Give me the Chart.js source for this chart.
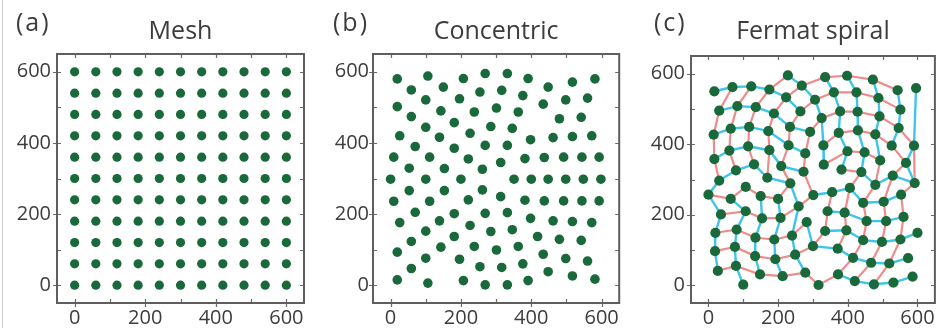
<!DOCTYPE html>
<html>
<head>
<meta charset="utf-8">
<script src="https://cdn.jsdelivr.net/npm/chart.js@4.4.1/dist/chart.umd.min.js"></script>
<style>
  body { margin: 0; background: #fff; }
  #wrap { position: relative; width: 940px; height: 328px; overflow: hidden; background: #fff; }
  #wrap canvas { position: absolute; top: 0; }
  #edge { position: absolute; left: 2px; top: 0; width: 1px; height: 328px; background: #cfcfcf; }
</style>
</head>
<body>
<div id="wrap">
  <div id="edge"></div>
  <canvas id="meshChart" width="310" height="328" style="left:0"></canvas>
  <canvas id="concentricChart" width="314" height="328" style="left:310px"></canvas>
  <canvas id="fermatChart" width="316" height="328" style="left:624px"></canvas>
</div>
<script>
// axis ticks
const tickLabels = [0, 200, 400, 600];
const tickMarks = [0, 100, 200, 300, 400, 500, 600];

// (a) regular mesh
const meshX = [0, 60, 120, 180, 240, 300, 360, 420, 480, 540, 600];
const meshY = [0, 60, 120, 180, 240, 300, 360, 420, 480, 540, 600];

// (b) concentric positions
const concentricX = [
  19, 106, 207, 269, 332, 391, 517, 581,
  59, 150, 254, 316, 448, 560,
  19, 100, 196, 301, 376, 498,
  59, 143, 238, 363, 434, 480, 542,
  26, 100, 181, 226, 285, 346,
  70, 139, 269, 332, 398, 462, 517, 572,
  9, 111, 221, 181,
  53, 153, 261, 313, 382, 437, 492, 544, 593,
  0, 100, 200, 351, 400, 448, 498, 548, 598,
  53, 153, 261, 313,
  9, 111, 221, 382, 437, 492, 544, 593,
  70, 181, 269, 332,
  26, 139, 226, 285, 346, 398, 462, 517, 572,
  100, 181, 363, 418, 480, 542,
  59, 238, 301,
  19, 143, 434, 498, 560,
  59, 100, 196, 254, 316, 376, 448,
  19, 106, 207, 269, 332, 391, 517, 581
];
const concentricY = [
  580, 588, 581, 595, 595, 581, 571, 580,
  549, 557, 543, 548, 557, 526,
  502, 521, 524, 498, 533, 521,
  474, 490, 487, 487, 509, 468, 472,
  420, 444, 457, 427, 446, 441,
  390, 416, 393, 393, 409, 415, 418, 420,
  360, 360, 355, 385,
  329, 328, 326, 345, 356, 359, 360, 360, 360,
  298, 298, 298, 298, 298, 298, 298, 298, 298,
  266, 266, 268, 249,
  236, 236, 240, 239, 237, 237, 237, 237,
  205, 201, 202, 204,
  176, 181, 168, 151, 156, 188, 181, 179, 176,
  152, 137, 109, 137, 129, 126,
  123, 109, 99,
  93, 107, 87, 75, 68,
  47, 76, 73, 52, 50, 60, 38,
  15, 6, 13, 1, 1, 13, 26, 17
];

// (c) Fermat spiral positions, index in the comment of each row
const fermatX = [
  228, 335, 398, 472, 17, 69, 123, 175, 268, 543,    // 0
  596, 223, 360, 425, 306, 488, 31, 83, 136, 188,    // 10
  264, 551, 378, 428, 491, 325, 234, 292, 374, 429,  // 20
  479, 546, 15, 64, 117, 172, 230, 330, 399, 448,    // 30
  526, 590, 17, 60, 114, 175, 278, 331, 382, 439,    // 40
  493, 567, 31, 79, 131, 169, 209, 273, 235, 406,    // 50
  479, 529, 592, 0, 64, 107, 200, 301, 355, 444,     // 60
  503, 553, 36, 107, 154, 207, 259, 342, 391, 454,   // 70
  510, 560, 20, 81, 135, 189, 240, 282, 335, 396,    // 80
  444, 498, 551, 600, 19, 76, 134, 192, 249, 300,    // 90
  371, 415, 467, 519, 573, 27, 79, 148, 213, 278,    // 100
  372, 420, 475, 531, 586, 100, 316, 150             // 110
];
const fermatY = [
  595, 590, 594, 583, 550, 562, 564, 555, 566, 553,
  559, 533, 547, 547, 526, 531, 495, 508, 505, 487,
  493, 498, 493, 492, 479, 474, 449, 435, 432, 439,
  428, 446, 427, 444, 449, 437, 397, 397, 380, 377,
  396, 396, 358, 382, 394, 383, 374, 342, 328, 321,
  354, 347, 297, 326, 343, 305, 338, 322, 289, 276,
  285, 311, 290, 257, 245, 279, 245, 256, 264, 234,
  237, 257, 201, 210, 190, 191, 224, 210, 206, 182,
  182, 194, 149, 158, 135, 130, 141, 179, 154, 156,
  128, 123, 130, 149, 97, 109, 83, 74, 87, 111,
  104, 78, 64, 62, 77, 41, 55, 31, 26, 36,
  31, 12, 3, 8, 25, 2, 1, 253
];

// spiral arms (red) and the cross links between them (blue), as index chains
const fermatRed = [
  [52, 42, 32, 16, 5],
  [53, 43, 33, 17, 6],
  [54, 44, 34, 18, 7, 0],
  [55, 45, 35, 19, 11, 8, 1, 2, 3, 9],
  [63, 64, 65, 117, 66, 58, 56, 36, 26, 20, 14, 12, 13, 15, 21],
  [72, 73, 74, 75, 76, 67, 57, 46, 27, 25, 22, 23, 24, 31, 41, 62, 71, 81, 92, 103, 112],
  [37, 28, 29, 30, 40, 51, 61, 70, 80, 91, 102, 111],
  [47, 38, 39, 50, 60, 69, 79, 90, 101, 110, 116, 109, 108, 107, 106, 105],
  [48, 49, 59, 78, 89, 100],
  [68, 77, 88, 99, 98, 97, 96, 95, 94],
  [87, 86, 85, 84, 83, 82]
];
const fermatBlue = [
  [4, 5, 6, 7, 11, 20],
  [16, 17, 18, 19, 26, 27],
  [32, 33, 34, 35, 36, 46],
  [42, 43, 44, 45, 56, 57],
  [52, 53, 54, 55, 58, 76, 86, 98, 109],
  [52, 63, 72, 82, 94, 105],
  [64, 73, 83, 95, 106, 115],
  [117, 74, 84, 96, 107],
  [66, 75, 85, 97, 108],
  [87, 99, 100, 101, 102, 103, 104],
  [67, 68, 59, 69, 70, 71],
  [77, 78, 79, 80, 81],
  [88, 89, 90, 91, 92, 93],
  [110, 111, 112, 113, 114],
  [0, 8, 14, 25, 37, 47],
  [1, 12, 22, 28, 38, 48],
  [2, 13, 23, 29, 39, 49, 60, 61, 62, 51, 41, 10],
  [3, 15, 24, 30, 50],
  [9, 21, 31, 40]
];

const textColor = '#3d3d3d';
const dotColor = '#19693a';
const fontFamily = '"Open Sans", "Noto Sans", sans-serif';

function toPoints(xs, ys) {
  return xs.map((x, i) => ({ x: x, y: ys[i] }));
}

const meshPoints = [];
meshY.forEach(y => meshX.forEach(x => meshPoints.push({ x: x, y: y })));

// frame on all four sides, ticks and the panel letter
const framePlugin = {
  id: 'frame',
  afterDraw(chart, args, opts) {
    const { ctx, chartArea: a, scales } = chart;
    const x = scales.x, y = scales.y;
    ctx.save();
    ctx.strokeStyle = '#6a6a6a';
    ctx.lineWidth = 1.2;
    ctx.beginPath();
    tickMarks.forEach(v => {
      const major = tickLabels.includes(v);
      const px = Math.round(x.getPixelForValue(v)) + 0.5;
      const py = Math.round(y.getPixelForValue(v)) + 0.5;
      ctx.moveTo(px, a.bottom + (major ? 4 : 0));
      ctx.lineTo(px, a.bottom - 4);
      ctx.moveTo(px, a.top);
      ctx.lineTo(px, a.top + 4);
      ctx.moveTo(a.left - (major ? 4 : 0), py);
      ctx.lineTo(a.left + 4, py);
      ctx.moveTo(a.right, py);
      ctx.lineTo(a.right - 4, py);
    });
    ctx.stroke();
    ctx.strokeStyle = '#5e5e5e';
    ctx.lineWidth = 2;
    ctx.strokeRect(a.left, a.top, a.right - a.left, a.bottom - a.top);
    ctx.fillStyle = textColor;
    ctx.font = '25px ' + fontFamily;
    if ('letterSpacing' in ctx) ctx.letterSpacing = '2px';
    ctx.textBaseline = 'alphabetic';
    ctx.textAlign = 'left';
    ctx.fillText(opts.letter, opts.letterX, 31);
    ctx.restore();
  }
};

function axis(fit, pad) {
  return {
    type: 'linear',
    min: -50,
    max: 650,
    grid: { display: false, drawTicks: false },
    border: { display: false },
    afterBuildTicks: s => { s.ticks = tickLabels.map(v => ({ value: v })); },
    afterFit: fit,
    ticks: {
      color: textColor,
      padding: pad,
      autoSkip: false,
      maxRotation: 0,
      font: { family: fontFamily, size: 20 }
    }
  };
}

function panelOptions(title, letter, letterX, axisWidth, yPad, padRight, titleGap) {
  return {
    responsive: false,
    animation: false,
    events: [],
    layout: { padding: { left: 0, right: padRight, top: 0, bottom: 0 } },
    plugins: {
      legend: { display: false },
      tooltip: { enabled: false },
      title: {
        display: true,
        text: title,
        fullSize: false,
        color: textColor,
        font: { family: fontFamily, size: 25, weight: 'normal' },
        padding: { top: 17, bottom: titleGap }
      },
      frame: { letter: letter, letterX: letterX }
    },
    scales: {
      x: axis(s => { s.height = 25; }, 3),
      y: axis(s => { s.width = axisWidth; }, yPad)
    }
  };
}

function dots(points, r) {
  return {
    data: points,
    showLine: false,
    pointRadius: r,
    pointBorderWidth: 0,
    pointBackgroundColor: dotColor
  };
}

function chains(list, color, width) {
  return list.map(chain => ({
    data: chain.map(i => ({ x: fermatX[i], y: fermatY[i] })),
    showLine: true,
    pointRadius: 0,
    borderColor: color,
    borderWidth: width,
    tension: 0
  }));
}

new Chart(document.getElementById('meshChart'), {
  type: 'scatter',
  data: { datasets: [dots(meshPoints, 4.6)] },
  options: panelOptions('Mesh', '(a)', 16, 57, 6, 6, 7),
  plugins: [framePlugin]
});

new Chart(document.getElementById('concentricChart'), {
  type: 'scatter',
  data: { datasets: [dots(toPoints(concentricX, concentricY), 4.8)] },
  options: panelOptions('Concentric', '(b)', 23, 63, 4, 3, 7),
  plugins: [framePlugin]
});

new Chart(document.getElementById('fermatChart'), {
  type: 'scatter',
  data: {
    datasets: [dots(toPoints(fermatX, fermatY), 5.1)]
      .concat(chains(fermatBlue, '#3fc4ea', 2.4))
      .concat(chains(fermatRed, '#f08b8b', 2.2))
  },
  options: panelOptions('Fermat spiral', '(c)', 30, 67, 6, 3, 9),
  plugins: [framePlugin]
});
</script>
</body>
</html>
